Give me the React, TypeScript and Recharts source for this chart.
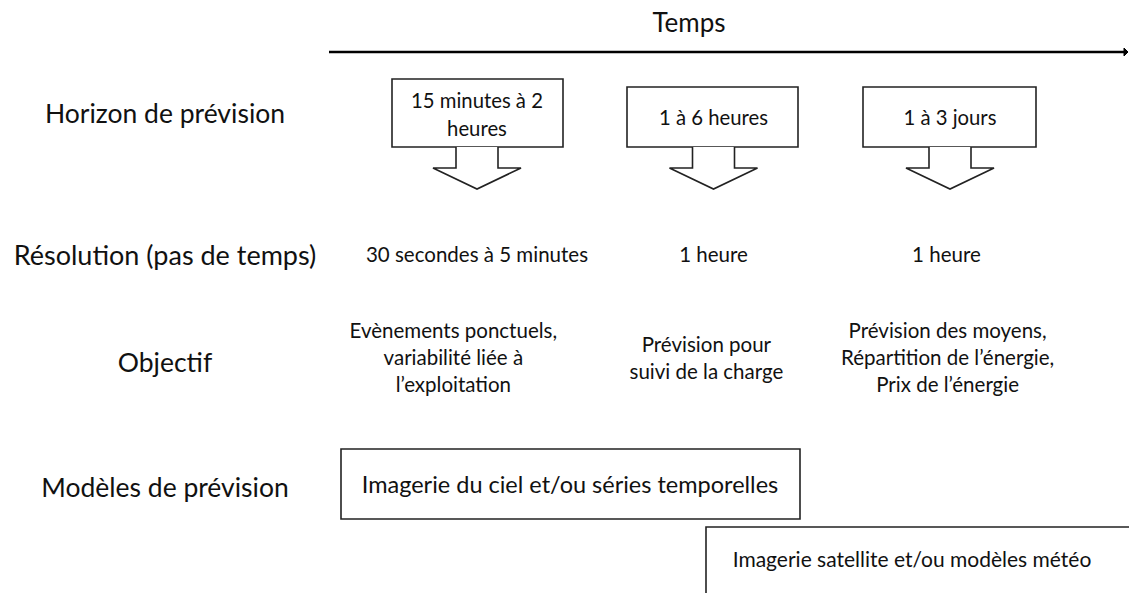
import React from "react";
import {
  ComposedChart,
  XAxis,
  YAxis,
  Scatter,
  ReferenceArea,
  ReferenceLine,
  ReferenceDot,
} from "recharts";

// --- content ---
const axisTitle = "Temps";
const rowLabels = [
  "Horizon de prévision",
  "Résolution (pas de temps)",
  "Objectif",
  "Modèles de prévision",
];
const horizons = [["15 minutes à 2", "heures"], ["1 à 6 heures"], ["1 à 3 jours"]];
const resolutions = ["30 secondes à 5 minutes", "1 heure", "1 heure"];
const objectives = [
  ["Evènements ponctuels,", "variabilité liée à", "l’exploitation"],
  ["Prévision pour", "suivi de la charge"],
  ["Prévision des moyens,", "Répartition de l’énergie,", "Prix de l’énergie"],
];
const models = [
  "Imagerie du ciel et/ou séries temporelles",
  "Imagerie satellite et/ou modèles météo",
];

// --- layout (x in column units, y in layout units top-down) ---
const W = 1129;
const H = 593;
const COL0 = 477;
const COL_STEP = 236.5;
const X_DOMAIN = [-COL0 / COL_STEP, (W - COL0) / COL_STEP];
const toCol = (px: number) => (px - COL0) / COL_STEP;

const LABEL_X = toCol(165);
const ROW_Y = [113, 254, 362, 487];
const OBJ_Y = 357;
const AXIS_Y = 52;
const FONT = "Lato, 'Open Sans', sans-serif";
const INK = "#111";

const TextShape = (props: any) => {
  const { cx, cy, payload } = props;
  const lines: string[] = payload.lines;
  const lh = payload.lh || 27;
  const y0 = cy - ((lines.length - 1) * lh) / 2;
  return (
    <text
      x={cx}
      y={y0}
      textAnchor="middle"
      dominantBaseline="central"
      fontFamily={FONT}
      fontSize={payload.size}
      fill={INK}
    >
      {lines.map((l, i) => (
        <tspan key={i} x={cx} y={y0 + i * lh}>
          {l}
        </tspan>
      ))}
    </text>
  );
};

const DownArrow = (props: any) => {
  const { cx, cy } = props;
  const pts = [
    [cx - 21, cy],
    [cx - 21, cy + 21],
    [cx - 44, cy + 21],
    [cx, cy + 42],
    [cx + 44, cy + 21],
    [cx + 21, cy + 21],
    [cx + 21, cy],
  ]
    .map((p) => p.join(","))
    .join(" ");
  return <polyline points={pts} fill="#fff" stroke="#222" strokeWidth={1.6} />;
};

const ArrowHead = (props: any) => {
  const { cx, cy } = props;
  return (
    <polygon
      points={`${cx - 4},${cy - 4} ${cx},${cy} ${cx - 4},${cy + 4}`}
      fill="#000"
      stroke="#000"
      strokeWidth={1}
    />
  );
};

export default function App() {
  const colShift = [0, 0, -0.015];
  const objShift = [-0.1, -0.03, -0.01];
  const texts = [
    { x: toCol(689), y: 22, lines: [axisTitle], size: 26 },
    ...rowLabels.map((t, i) => ({ x: LABEL_X, y: ROW_Y[i], lines: [t], size: i === 1 ? 27 : 26.5 })),
    ...horizons.map((t, i) => ({ x: i, y: i === 0 ? 114 : 117, lines: t, size: 20.3, lh: 28 })),
    ...resolutions.map((t, i) => ({ x: i + colShift[i], y: ROW_Y[1], lines: [t], size: 20.5 })),
    ...objectives.map((t, i) => ({
      x: i + objShift[i],
      y: OBJ_Y,
      lines: t,
      size: 20.5,
      lh: 27,
    })),
    { x: toCol(570), y: 484, lines: [models[0]], size: 23.5 },
    { x: toCol(912), y: 558, lines: [models[1]], size: 21 },
  ];
  const arrows = horizons.map((_, i) => ({ x: i, y: 147 }));

  const boxes = [
    { x1: toCol(392), x2: toCol(563), y1: 79, y2: 147 },
    { x1: toCol(627), x2: toCol(798), y1: 87, y2: 147 },
    { x1: toCol(863), x2: toCol(1036), y1: 87, y2: 147 },
    { x1: toCol(341), x2: toCol(800), y1: 449, y2: 519 },
    { x1: toCol(706), x2: toCol(1140), y1: 527, y2: 610 },
  ];

  return (
    <div style={{ position: "absolute", left: 0, top: 0, width: W, height: H, background: "#fff" }}>
      <ComposedChart width={W} height={H} margin={{ top: 0, right: 0, bottom: 0, left: 0 }}>
        <XAxis type="number" dataKey="x" domain={X_DOMAIN} allowDataOverflow hide />
        <YAxis type="number" dataKey="y" domain={[0, H]} reversed allowDataOverflow hide />
        <ReferenceLine
          segment={[
            { x: toCol(329), y: AXIS_Y },
            { x: toCol(1125), y: AXIS_Y },
          ]}
          stroke="#000"
          strokeWidth={2.5}
          ifOverflow="visible"
        />
        <ReferenceDot x={toCol(1128)} y={AXIS_Y} ifOverflow="visible" shape={ArrowHead} />
        {boxes.map((b, i) => (
          <ReferenceArea
            key={i}
            {...b}
            fill="none"
            stroke="#222"
            strokeWidth={1.6}
            ifOverflow="visible"
          />
        ))}
        <Scatter data={arrows} shape={DownArrow} isAnimationActive={false} />
        <Scatter data={texts} shape={TextShape} isAnimationActive={false} />
      </ComposedChart>
    </div>
  );
}
